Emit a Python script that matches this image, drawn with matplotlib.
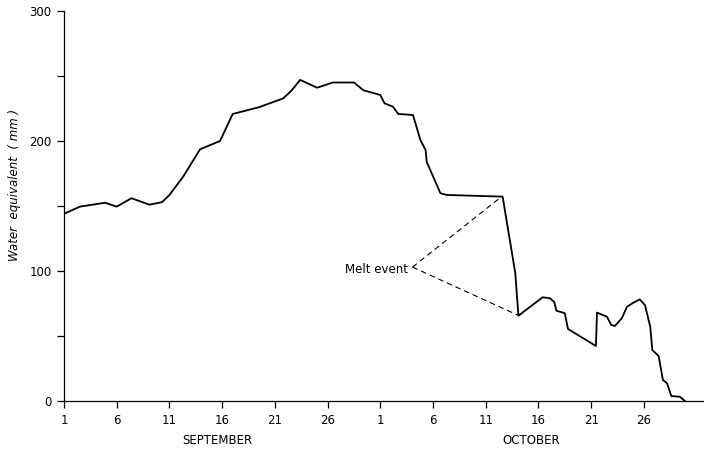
import numpy as np
import matplotlib
matplotlib.use("Agg")
import matplotlib.pyplot as plt
import matplotlib.transforms as mtransforms

plt.rcParams['font.family'] = ['Liberation Sans Narrow', 'DejaVu Sans']

# day counted from 1 September (1 Oct = day 31), water equivalent in mm
days = [1, 2.5, 4.9, 6.0, 7.4, 9.1, 10.3, 11.0, 12.3, 13.9, 15.8, 17.0,
        19.5, 21.8, 22.6, 23.4, 25.0, 26.5, 28.5, 29.4, 31.0, 31.4, 32.2,
        32.7, 34.1, 34.8, 35.3, 35.4, 36.7, 37.3, 42.6, 43.8, 44.1, 46.4,
        47.1, 47.5, 47.7, 48.5, 48.8, 51.45, 51.55, 52.5, 52.9, 53.25, 53.9,
        54.4, 55.0, 55.6, 56.1, 56.6, 56.8, 57.4, 57.8, 58.2, 58.6, 59.4, 59.9]
swe = [144, 149.5, 152.5, 149.5, 156, 151, 153, 158.5, 172.5, 193.6, 200,
       220.8, 226, 232.8, 239, 247, 241, 245, 245, 239, 235.4, 229, 226.4,
       220.8, 220, 200.8, 193, 184, 159.8, 158.5, 157.2, 98.5, 65.6, 79.8,
       79, 76, 69.5, 67.5, 55.4, 42.3, 68, 64.8, 58.5, 57.7, 63.6,
       72.5, 75.6, 78.2, 73.8, 57.2, 39.2, 34.6, 16.2, 13.6, 3.8, 3.3, 0]

tick_days = [1, 6, 11, 16, 21, 26, 31, 36, 41, 46, 51, 56]
tick_labels = ['1', '6', '11', '16', '21', '26', '1', '6', '11', '16', '21', '26']
months = ['SEPTEMBER', 'OCTOBER']
month_pos = [15.5, 45.3]

# melt event annotation: label point and the two ends of the drop
melt_label = (34.05, 103)
melt_ends = [(42.55, 157.5), (44.05, 66)]

fig = plt.figure(figsize=(7.04, 4.61), dpi=100)
ax = fig.add_axes([64 / 704, 60 / 461, 640 / 704, 390 / 461])

ax.plot(days, swe, color='black', lw=1.3)

for ex, ey in melt_ends:
    ax.plot([melt_label[0], ex], [melt_label[1], ey], color='black',
            lw=0.8, dashes=(5, 3.5))
ax.text(melt_label[0] - 0.45, melt_label[1] - 2, 'Melt event', ha='right',
        va='center', fontsize=8.5)

ax.set_xlim(1, 61.7)
ax.set_ylim(0, 300)
ax.set_xticks(tick_days)
ax.set_xticklabels(tick_labels)
ax.set_yticks([0, 100, 200, 300])
ax.set_yticks([50, 150, 250], minor=True)
ax.tick_params(axis='both', direction='out', labelsize=8.5, width=0.9,
               length=5, pad=4)
ax.tick_params(axis='y', which='minor', direction='out', length=5, width=0.9)

for s in ['top', 'right']:
    ax.spines[s].set_visible(False)
for s in ['left', 'bottom']:
    ax.spines[s].set_linewidth(0.9)

trans = mtransforms.blended_transform_factory(ax.transData, ax.transAxes)
for m, p in zip(months, month_pos):
    ax.text(p, -0.10, m, transform=trans, ha='center', va='center',
            fontsize=8.5)

fig.text(15 / 704, 1 - 185 / 461, 'Water  equivalent  ( mm )', rotation=90,
         ha='center', va='center', fontsize=8.5, style='italic')

fig.savefig('out.png', dpi=100)
